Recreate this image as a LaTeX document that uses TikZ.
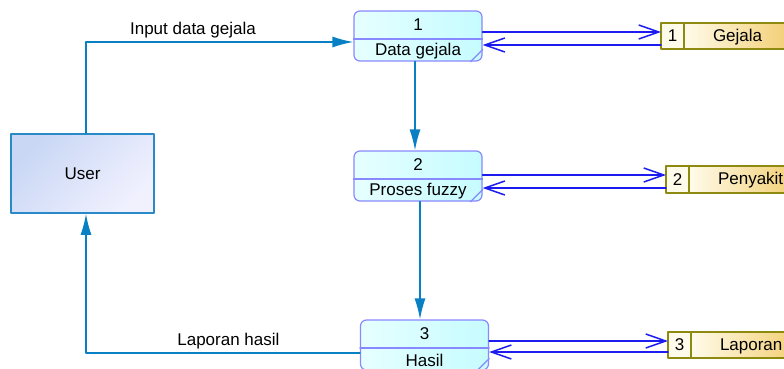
\documentclass[tikz,border=0pt]{standalone}
\usepackage{fontspec}
\setmainfont{Liberation Sans}
\usetikzlibrary{arrows.meta,positioning}
\definecolor{procborder}{HTML}{8888FF}
\definecolor{proclight}{HTML}{E6FFFF}
\definecolor{procdark}{HTML}{C6FCFF}
\definecolor{userborder}{HTML}{2A8AC8}
\definecolor{userlight}{HTML}{C9D7F5}
\definecolor{userdark}{HTML}{F1F1FE}
\definecolor{storeborder}{HTML}{8E8A10}
\definecolor{storelight}{HTML}{FFFBEA}
\definecolor{storedark}{HTML}{F0C65C}
\definecolor{flowcol}{HTML}{0A80C4}
\definecolor{dscol}{HTML}{1C1CF0}
\begin{document}
\begin{tikzpicture}[x=1pt, y=-1pt, line cap=round, line join=round, font=\fontsize{17}{19}\selectfont, >=Latex]
	\tikzset{proc/.style={draw=procborder, line width=1.2pt, rounded corners=6pt, left color=proclight, right color=procdark, minimum width=128pt, minimum height=50pt, inner sep=0pt},
		procedge/.style={draw=procborder, line width=1.2pt},
		entity/.style={draw=userborder, line width=1.6pt, top color=userlight, bottom color=userdark, shading angle=45, minimum width=143pt, minimum height=79pt},
		storenum/.style={draw=storeborder, line width=1.3pt, fill=storelight, minimum width=23pt, outer sep=0pt, inner sep=0pt},
		storename/.style={draw=storeborder, line width=1.3pt, left color=storelight, right color=storedark, minimum width=127pt, outer sep=0pt, inner xsep=29pt, inner ysep=0pt, text width=69pt, align=left, text depth=0.3ex},
		flow/.style={draw=flowcol, line width=1.5pt, -{Latex[length=21pt,width=11pt]}},
		dsflow/.style={draw=dscol, line width=1.5pt, -{Straight Barb[length=20pt,width=14pt]}}}
	\useasboundingbox (0,0) rectangle (784,369);
	\clip (0,0) rectangle (784,369);
	% external entity
	\node[entity] (user) at (82.5,173.5) {User};
	% processes
	\foreach \nm/\cx/\cy/\num/\txt in {p1/418/36/1/Data gejala, p2/418/176/2/Proses fuzzy, p3/424.5/345/3/Hasil}{
		\node[proc] (\nm) at (\cx,\cy) {};
		\draw[procedge] ([yshift=-3pt]\nm.west) -- ([yshift=-3pt]\nm.east);
		\draw[procedge] ([xshift=-12pt]\nm.south east) -- ([yshift=12pt]\nm.south east);
		\node (\nm num) at ([yshift=11pt]\nm.center) {\num};
		\node (\nm txt) at ([yshift=-15pt]\nm.center) {\txt};
	}
	% data stores
	\node[storenum, minimum height=26pt] (n1) at (672.5,36) {1};
	\node[storename, minimum height=26pt, right=0pt of n1] (d1) {Gejala};
	\node[storenum, minimum height=27pt] (n2) at (677.5,179.5) {2};
	\node[storename, minimum height=27pt, right=0pt of n2] (d2) {Penyakit};
	\node[storenum, minimum height=26pt] (n3) at (679.5,345) {3};
	\node[storename, minimum height=26pt, right=0pt of n3] (d3) {Laporan};
	% flows
	\draw[flow] ([xshift=3.5pt]user.north) |- ([yshift=-6pt]p1.west) node[pos=0.7, above] (lblin) {Input data gejala};
	\draw[flow] ([xshift=-3pt]p1.south) -- ([xshift=-3pt]p2.north);
	\draw[flow] ([xshift=2pt]p2.south) -- ([xshift=2pt]p2.south |- p3.north);
	\draw[flow] ([yshift=-8pt]p3.west) -| ([xshift=3.5pt]user.south) node[pos=0.24, above] (lblout) {Laporan hasil};
	\draw[dsflow] ([yshift=4pt]p1.east) -- ([yshift=4pt]n1.west);
	\draw[dsflow] ([yshift=-9pt]n1.west) -- ([yshift=-9pt]p1.east);
	\draw[dsflow] ([yshift=4.5pt]n2.west -| p2.east) -- ([yshift=4.5pt]n2.west);
	\draw[dsflow] ([yshift=-8.5pt]n2.west) -- ([yshift=-8.5pt]n2.west -| p2.east);
	\draw[dsflow] ([yshift=4pt]p3.east) -- ([yshift=4pt]n3.west);
	\draw[dsflow] ([yshift=-7pt]n3.west) -- ([yshift=-7pt]p3.east);
\end{tikzpicture}
\end{document}
